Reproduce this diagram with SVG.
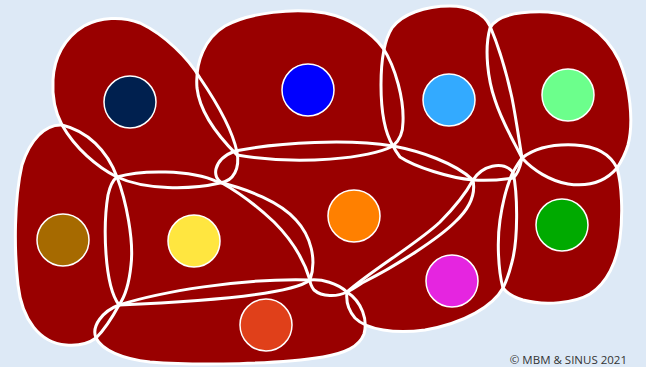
<svg xmlns="http://www.w3.org/2000/svg" width="646" height="367" viewBox="0 0 646 367">
<style>
.blob{fill:#990000;stroke:none}
.edge{fill:none;stroke:#ffffff;stroke-width:3;stroke-linejoin:round}
.dot{stroke:#ffffff;stroke-width:1.5}
.copy{font-family:"Open Sans","Liberation Sans",sans-serif;font-size:11.5px;fill:#333333}
</style>
<defs>
<path id="p-navy" d="M 62,125 C 55,112 52,97 53,80 C 54,58 64,38 84,26 C 100,17 122,16 140,23 C 165,35 188,58 200,78 C 215,100 232,128 237,152 C 240,168 234,181 220,183 C 190,190 145,190 117,177 C 97,167 75,148 62,125 Z"/>
<path id="p-blue" d="M 237,155 C 222,140 200,115 197,88 C 195,62 205,38 225,26 C 250,12 295,8 325,13 C 350,18 372,33 383,48 C 396,68 404,100 403,122 C 403,133 399,141 393,146 C 370,158 300,166 237,155 Z"/>
<path id="p-lightblue" d="M 393,146 C 385,133 381,110 381,85 C 381,62 383,42 392,28 C 402,14 425,6 450,6 C 468,6 484,13 490,26 C 498,45 507,75 512,98 C 516,118 519,140 522,158 C 520,168 517,175 513,178 C 500,180 487,181 473,180 C 450,178 415,167 400,157 C 397,153 395,150 393,146 Z"/>
<path id="p-lightgreen" d="M 522,158 C 513,140 502,122 495,100 C 488,80 484,50 490,28 C 497,15 520,11 548,12 C 580,14 605,32 619,60 C 630,85 634,122 628,145 C 625,155 621,162 617,168 C 605,182 588,187 568,184 C 550,181 533,170 522,158 Z"/>
<path id="p-brown" d="M 62,125 C 87,131 107,150 117,177 C 126,200 134,240 131,265 C 129,285 124,298 119,305 C 112,318 104,330 96,338 C 88,344 78,346 66,345 C 40,343 22,320 18,285 C 14,250 14,200 22,165 C 30,140 45,124 62,125 Z"/>
<path id="p-yellow" d="M 117,177 C 140,170 190,169 218,182 C 248,189 280,202 296,220 C 311,236 317,260 310,280 C 290,296 190,302 119,305 C 104,285 103,225 108,195 C 110,186 113,180 117,177 Z"/>
<path id="p-orange" d="M 235,151 C 280,142 350,139 393,146 C 420,151 455,163 473,180 C 476,195 468,210 455,222 C 440,237 400,264 362,283 C 356,287 351,290 347,292 C 337,297 322,297 314,290 C 311,286 310,283 310,280 C 304,260 292,240 274,222 C 258,207 238,192 222,183 C 212,178 212,160 235,151 Z"/>
<path id="p-green" d="M 522,158 C 535,148 555,144 575,145 C 595,146 610,154 617,168 C 622,185 623,215 620,238 C 617,262 607,283 590,294 C 575,303 545,306 523,300 C 513,297 507,293 503,288 C 498,270 497,240 500,220 C 503,200 507,185 513,172 C 516,167 519,162 522,158 Z"/>
<path id="p-magenta" d="M 347,292 C 372,270 418,243 440,222 C 455,207 466,193 473,180 C 482,166 502,160 513,172 C 518,195 518,240 512,262 C 509,274 506,282 503,288 C 493,306 465,323 425,330 C 395,334 367,330 355,318 C 348,310 346,300 347,292 Z"/>
<path id="p-red" d="M 119,305 C 160,292 240,278 310,280 C 322,279 337,283 347,292 C 362,302 368,320 364,334 C 359,347 345,353 323,357 C 280,364 200,366 150,362 C 122,359 102,350 96,338 C 91,326 103,311 119,305 Z"/>
</defs>
<rect x="0" y="0" width="646" height="367" fill="#dde9f6"/>
<g id="node-navy"><use href="#p-navy" class="blob"/><circle class="dot" cx="130" cy="102" r="26" fill="#00204f"/></g>
<g id="node-blue"><use href="#p-blue" class="blob"/><circle class="dot" cx="308" cy="90" r="26" fill="#0000ff"/></g>
<g id="node-lightblue"><use href="#p-lightblue" class="blob"/><circle class="dot" cx="449" cy="100" r="26" fill="#33aaff"/></g>
<g id="node-lightgreen"><use href="#p-lightgreen" class="blob"/><circle class="dot" cx="568" cy="95" r="26" fill="#6cff8c"/></g>
<g id="node-brown"><use href="#p-brown" class="blob"/><circle class="dot" cx="63" cy="240" r="26" fill="#a66a00"/></g>
<g id="node-yellow"><use href="#p-yellow" class="blob"/><circle class="dot" cx="194" cy="241" r="26" fill="#ffe640"/></g>
<g id="node-orange"><use href="#p-orange" class="blob"/><circle class="dot" cx="354" cy="216" r="26" fill="#ff8000"/></g>
<g id="node-green"><use href="#p-green" class="blob"/><circle class="dot" cx="562" cy="225" r="26" fill="#00aa00"/></g>
<g id="node-magenta"><use href="#p-magenta" class="blob"/><circle class="dot" cx="452" cy="281" r="26" fill="#e525e0"/></g>
<g id="node-red"><use href="#p-red" class="blob"/><circle class="dot" cx="266" cy="325" r="26" fill="#e0401a"/></g>
<g id="outlines">
<use href="#p-navy" class="edge"/>
<use href="#p-blue" class="edge"/>
<use href="#p-lightblue" class="edge"/>
<use href="#p-lightgreen" class="edge"/>
<use href="#p-brown" class="edge"/>
<use href="#p-yellow" class="edge"/>
<use href="#p-orange" class="edge"/>
<use href="#p-green" class="edge"/>
<use href="#p-magenta" class="edge"/>
<use href="#p-red" class="edge"/>
</g>
<text class="copy" x="627" y="364" text-anchor="end">© MBM &amp; SINUS 2021</text>
</svg>
